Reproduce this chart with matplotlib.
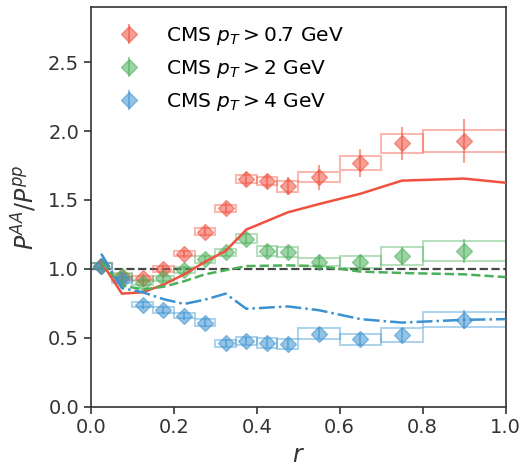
import numpy as np
import matplotlib
matplotlib.use('Agg')
import matplotlib.pyplot as plt
from matplotlib.patches import Rectangle

# bins in r
edges = [0.0, 0.05, 0.1, 0.15, 0.2, 0.25, 0.3, 0.35, 0.4, 0.45, 0.5, 0.6, 0.7, 0.8, 1.0]
centers = [0.025, 0.075, 0.125, 0.175, 0.225, 0.275, 0.325, 0.375, 0.425, 0.475, 0.55, 0.65, 0.75, 0.9]

# CMS data: value, stat error, systematic half-height
red_y = [1.02, 0.94, 0.93, 1.00, 1.11, 1.27, 1.44, 1.65, 1.64, 1.60, 1.665, 1.77, 1.91, 1.93]
red_stat = [0.03, 0.03, 0.03, 0.03, 0.03, 0.035, 0.04, 0.05, 0.05, 0.065, 0.09, 0.10, 0.12, 0.16]
red_sys = [0.02, 0.02, 0.02, 0.02, 0.02, 0.025, 0.025, 0.03, 0.03, 0.04, 0.035, 0.05, 0.07, 0.08]
green_y = [1.02, 0.95, 0.90, 0.93, 0.99, 1.07, 1.12, 1.22, 1.13, 1.12, 1.05, 1.05, 1.09, 1.13]
green_stat = [0.03, 0.03, 0.03, 0.03, 0.03, 0.03, 0.03, 0.04, 0.04, 0.04, 0.05, 0.05, 0.065, 0.09]
green_sys = [0.02, 0.02, 0.02, 0.02, 0.02, 0.025, 0.025, 0.03, 0.035, 0.035, 0.03, 0.045, 0.065, 0.07]
blue_y = [1.02, 0.92, 0.74, 0.70, 0.66, 0.61, 0.46, 0.475, 0.46, 0.456, 0.53, 0.49, 0.52, 0.63]
blue_stat = [0.03, 0.03, 0.03, 0.03, 0.03, 0.03, 0.03, 0.03, 0.03, 0.035, 0.04, 0.04, 0.05, 0.07]
blue_sys = [0.02, 0.02, 0.02, 0.02, 0.02, 0.025, 0.025, 0.03, 0.035, 0.035, 0.037, 0.04, 0.05, 0.055]

# model curves
th_r = [0.025, 0.075, 0.125, 0.175, 0.225, 0.275, 0.325, 0.375, 0.475, 0.55, 0.65, 0.75, 0.9, 1.0]
red_th = [1.05, 0.82, 0.83, 0.885, 0.96, 1.05, 1.13, 1.285, 1.41, 1.47, 1.545, 1.64, 1.655, 1.625]
green_th = [1.05, 0.88, 0.85, 0.87, 0.91, 0.96, 0.99, 1.02, 1.025, 1.02, 0.98, 0.97, 0.96, 0.94]
blue_th = [1.11, 0.86, 0.83, 0.78, 0.745, 0.776, 0.82, 0.71, 0.727, 0.70, 0.635, 0.61, 0.63, 0.635]

labels = [r'CMS $p_T > 0.7$ GeV', r'CMS $p_T > 2$ GeV', r'CMS $p_T > 4$ GeV']
cols = ['#f0503e', '#4caf5a', '#3b92d1']

fig = plt.figure(figsize=(5.25, 4.69), dpi=100)
ax = fig.add_axes([0.173, 0.133, 0.79, 0.852])

ax.axhline(1.0, ls='--', c='#333333', lw=1.6, alpha=0.9, zorder=1)
sets = [(red_y, red_stat, red_sys), (green_y, green_stat, green_sys), (blue_y, blue_stat, blue_sys)]
for (y, e, s), c, lab in zip(sets, cols, labels):
    for i in range(len(centers)):
        lo, hi = edges[i], edges[i+1]
        ax.add_patch(Rectangle((lo, y[i]-s[i]), hi-lo, 2*s[i], fill=False, ec=c, lw=1.5, alpha=0.4, zorder=2))
    ax.errorbar(centers, y, yerr=e, fmt='D', ms=8, color=c, alpha=0.55, elinewidth=1.5, capsize=0, label=lab, zorder=3)

ax.plot(th_r, red_th, '-', c=cols[0], lw=1.8, zorder=4)
ax.plot(th_r, green_th, '--', c=cols[1], lw=1.8, zorder=4)
ax.plot(th_r, blue_th, '-.', c=cols[2], lw=1.8, zorder=4)

ax.set_xlim(0, 1.0)
ax.set_ylim(0, 2.9)
ax.set_xticks([0.0, 0.2, 0.4, 0.6, 0.8, 1.0])
ax.set_yticks([0.0, 0.5, 1.0, 1.5, 2.0, 2.5])
ax.tick_params(labelsize=14, colors='#333333', width=1.2, length=5)
for sp in ax.spines.values():
    sp.set_color('#333333'); sp.set_linewidth(1.2)
ax.set_xlabel(r'$r$', fontsize=17, color='#333333')
ax.set_ylabel(r'$P^{AA}/P^{pp}$', fontsize=17, color='#333333', labelpad=6)
ax.legend(loc='upper left', frameon=False, fontsize=14.5, handletextpad=0.85, labelspacing=0.55,
          borderaxespad=0.5, handlelength=2.0)
fig.savefig('out.png', dpi=100)
